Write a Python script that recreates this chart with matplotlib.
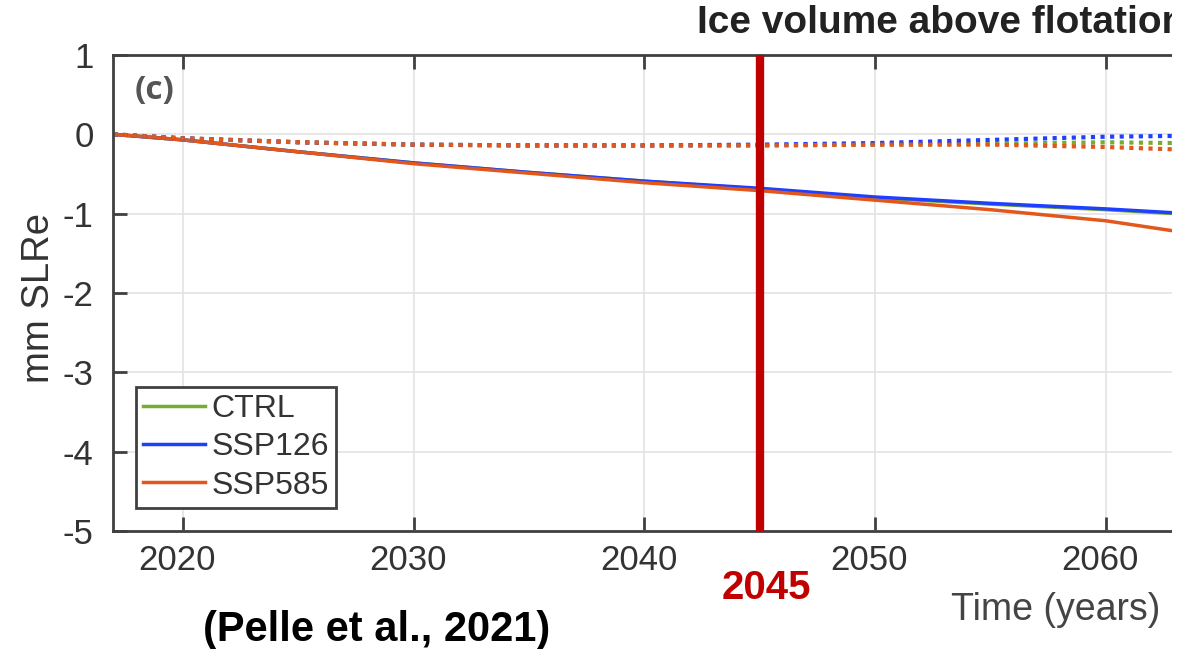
import matplotlib
matplotlib.use("Agg")
import matplotlib.pyplot as plt
import matplotlib.transforms as mtransforms
from matplotlib.patches import Rectangle

plt.rcParams['font.family'] = ['Liberation Sans', 'DejaVu Sans']
plt.rcParams['axes.unicode_minus'] = False

# model years and mm SLRe change in ice volume above flotation
years = [2017, 2020, 2025, 2030, 2035, 2040, 2045, 2050, 2055, 2060, 2063]

ctrl_solid = [0, -0.07, -0.22, -0.36, -0.48, -0.59, -0.69, -0.80, -0.88, -0.95, -1.00]
ssp126_solid = [0, -0.07, -0.22, -0.36, -0.48, -0.59, -0.68, -0.79, -0.87, -0.94, -0.99]
ssp585_solid = [0, -0.07, -0.22, -0.37, -0.49, -0.61, -0.71, -0.83, -0.95, -1.09, -1.22]

ctrl_dot = [0, -0.05, -0.10, -0.13, -0.14, -0.14, -0.14, -0.13, -0.12, -0.10, -0.11]
ssp126_dot = [0, -0.05, -0.10, -0.13, -0.14, -0.14, -0.13, -0.11, -0.07, -0.03, -0.02]
ssp585_dot = [0, -0.05, -0.10, -0.13, -0.14, -0.14, -0.14, -0.13, -0.13, -0.16, -0.19]

xticks = [2020, 2030, 2040, 2050, 2060]
yticks = [1, 0, -1, -2, -3, -4, -5]
marker_year = 2045

green = '#77ac30'
blue = '#1f3fff'
orange = '#e2571c'
axcol = '#404040'
txtcol = '#333333'

W, H = 1198, 649
fig = plt.figure(figsize=(W / 100, H / 100), dpi=100)
ax = fig.add_axes([113/W, 1-531/H, (1172-113)/W, (531-55)/H])

ax.plot(years, ctrl_solid, color=green, lw=2.5, label='CTRL')
ax.plot(years, ssp126_solid, color=blue, lw=2.5, label='SSP126')
ax.plot(years, ssp585_solid, color=orange, lw=2.5, label='SSP585')
ax.plot(years, ctrl_dot, color=green, lw=3, ls=(0, (1, 1.3)))
ax.plot(years, ssp126_dot, color=blue, lw=3, ls=(0, (1, 1.3)))
ax.plot(years, ssp585_dot, color=orange, lw=3, ls=(0, (1, 1.3)))

ax.axvline(marker_year, color='#c00000', lw=6, zorder=5)

ax.set_xlim(2016.97, 2062.86)
ax.set_ylim(-5, 1)
ax.set_xticks(xticks)
ax.set_yticks(yticks)
ax.grid(True, color='#e3e3e3', lw=1.2)
ax.set_axisbelow(True)
ax.tick_params(direction='in', length=10, width=2, color=axcol, top=True,
               labelsize=25, labelcolor=txtcol)
ax.tick_params(axis='x', pad=9)
ax.tick_params(axis='y', pad=14)
for side in ['left', 'top', 'bottom']:
    ax.spines[side].set_color(axcol)
    ax.spines[side].set_linewidth(2)
ax.spines['right'].set_visible(False)

# year labels sit a little left of their ticks
shift = mtransforms.ScaledTranslation(-6/100, 0, fig.dpi_scale_trans)
for lab in ax.get_xticklabels():
    lab.set_transform(lab.get_transform() + shift)

ax.set_ylabel('mm SLRe', fontsize=27.5, color=txtcol)
ax.yaxis.set_label_coords(-56/(1172-113), (531-298)/(531-55))
fig.text(135/W, 1-91/H, '(c)', fontsize=24, fontweight='bold',
         color='#555555', family='Open Sans', va='center')

leg = ax.legend(loc='upper left', bbox_to_anchor=(23/(1172-113), (531-387)/(531-55)),
                fontsize=23, frameon=True, fancybox=False, handlelength=1.95,
                handletextpad=0.2, borderpad=0.22, labelspacing=0.26,
                borderaxespad=0, framealpha=1)
leg.get_frame().set_edgecolor(axcol)
leg.get_frame().set_linewidth(2)
for t in leg.get_texts():
    t.set_color(txtcol)

fig.text(697/W, 1-23/H, 'Ice volume above flotation', fontsize=28,
         fontweight='bold', color='#222222', va='center', ha='left')
fig.text(1056/W, 1-610/H, 'Time (years)', fontsize=27, color='#444444',
         va='center', ha='center')
fig.text(766/W, 1-588/H, str(marker_year), fontsize=29, fontweight='bold',
         color='#c00000', va='center', ha='center')
fig.text(377/W, 1-630/H, '(Pelle et al., 2021)', fontsize=30,
         fontweight='bold', color='black', va='center', ha='center')

# blank strip on the right edge
fig.patches.append(Rectangle((1172/W, 0), 1, 1, transform=fig.transFigure,
                             facecolor='white', edgecolor='none', zorder=10))

fig.savefig('out.png', dpi=100)
